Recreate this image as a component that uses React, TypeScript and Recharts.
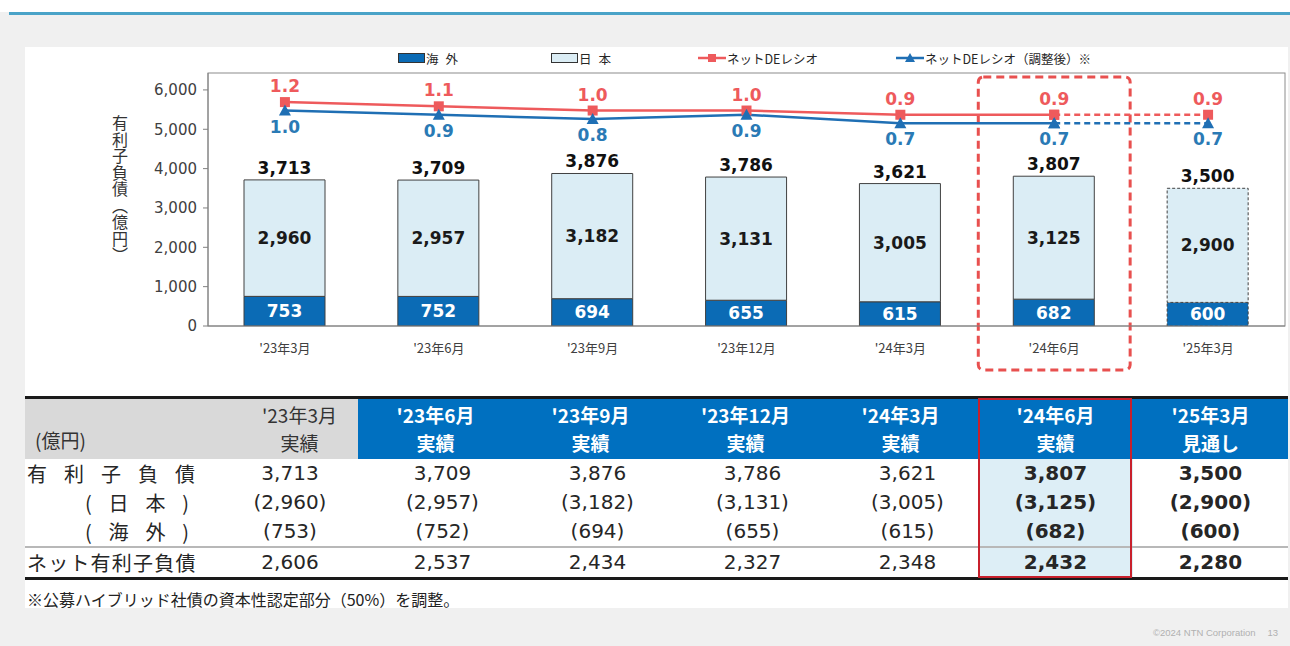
import React from 'react';
import { ComposedChart, Bar, Line, XAxis, YAxis, LabelList, Cell, ReferenceArea } from 'recharts';

const categories = ["'23年3月", "'23年6月", "'23年9月", "'23年12月", "'24年3月", "'24年6月", "'25年3月"];
const status = ['実績', '実績', '実績', '実績', '実績', '実績', '見通し'];
const overseas = [753, 752, 694, 655, 615, 682, 600];
const japan = [2960, 2957, 3182, 3131, 3005, 3125, 2900];
const total = [3713, 3709, 3876, 3786, 3621, 3807, 3500];
const netDebt = [2606, 2537, 2434, 2327, 2348, 2432, 2280];
const deRatio = [1.2, 1.1, 1.0, 1.0, 0.9, 0.9, 0.9];
const deRatioAdj = [1.0, 0.9, 0.8, 0.9, 0.7, 0.7, 0.7];
const yTicks = [0, 1000, 2000, 3000, 4000, 5000, 6000];
const Y_MAX = 6430;

const ACTUAL_LAST = 5; // '24年6月, after this the forecast (dashed)
const HIGHLIGHT = 5;

const NUM = "'DejaVu Sans', Verdana, sans-serif";
const JP = "'Noto Sans CJK JP', sans-serif";
const RED = '#ee5a5c';
const BLUE = '#1f6fb4';
const DARK = '#0b6bb5';
const LIGHT = '#dbedf5';

const chartData = categories.map((name, i) => ({
  name,
  overseas: overseas[i],
  japan: japan[i],
  total: total[i],
  deSolid: i <= ACTUAL_LAST ? deRatio[i] : null,
  deDash: i >= ACTUAL_LAST ? deRatio[i] : null,
  adjSolid: i <= ACTUAL_LAST ? deRatioAdj[i] : null,
  adjDash: i >= ACTUAL_LAST ? deRatioAdj[i] : null,
}));

const fmt = (v: any) => Number(v).toLocaleString('en-US');

const squareDot = (props: any) => {
  const { cx, cy, index } = props;
  if (cx == null || cy == null) return <g key={`s${index}`} />;
  return <rect key={`s${index}`} x={cx - 5} y={cy - 5} width={10} height={10} fill={RED} />;
};

const triangleDot = (props: any) => {
  const { cx, cy, index } = props;
  if (cx == null || cy == null) return <g key={`t${index}`} />;
  return <polygon key={`t${index}`} points={`${cx},${cy - 6} ${cx - 6},${cy + 5} ${cx + 6},${cy + 5}`} fill={BLUE} />;
};

const ratioLabel = (color: string, dy: number, from: number) => (props: any) => {
  const { x, y, value, index } = props;
  if (value == null || x == null || y == null) return null;
  if (index != null && index < from) return null;
  return (
    <text x={x} y={y + dy} fill={color} textAnchor="middle" dominantBaseline="central"
      fontSize={17} fontWeight="bold" fontFamily={NUM}>
      {Number(value).toFixed(1)}
    </text>
  );
};

const highlightBox = (props: any) => (
  <rect x={props.x + 1} y={props.y + 4} width={props.width - 2} height={props.height + 40} rx={5}
    fill="none" stroke="#e8504f" strokeWidth={3} strokeDasharray="8 5" />
);

const plotFrame = (props: any) => (
  <rect x={props.x} y={props.y} width={props.width} height={props.height} fill="none" stroke="#8c8c8c" strokeWidth={1} />
);

const LegendBar = ({ color }: { color: string }) => (
  <svg width={27} height={12} style={{ verticalAlign: 'middle' }}>
    <rect x={0.5} y={1.5} width={26} height={9} fill={color} stroke="#333" strokeWidth={1} />
  </svg>
);

const LegendLine = ({ color, tri }: { color: string; tri?: boolean }) => (
  <svg width={28} height={12} style={{ verticalAlign: 'middle' }}>
    <line x1={0} y1={6} x2={28} y2={6} stroke={color} strokeWidth={2.5} />
    {tri ? <polygon points="14,1 9,10 19,10" fill={color} /> : <rect x={10} y={2} width={8} height={8} fill={color} />}
  </svg>
);

const legendText: React.CSSProperties = { fontFamily: JP, fontSize: 12.5, color: '#262626', marginLeft: 1 };

const headerBlue: React.CSSProperties = {
  background: '#0070c0', color: '#fff', fontWeight: 'bold', fontFamily: JP, fontSize: 19,
  lineHeight: '28px', textAlign: 'center', padding: 0,
};

const App: React.FC = () => {
  const colW = [197, 136, 155, 155, 155, 155, 155, 155];
  const bodyRows: { label: React.ReactNode; values: string[] }[] = [
    {
      label: <span style={{ letterSpacing: 17 }}>有利子負債</span>,
      values: total.map(fmt),
    },
    {
      label: (
        <span style={{ display: 'flex', justifyContent: 'space-between', width: 104, marginLeft: 58 }}>
          <span>(</span><span>日</span><span>本</span><span>)</span>
        </span>
      ),
      values: japan.map((v) => `(${fmt(v)})`),
    },
    {
      label: (
        <span style={{ display: 'flex', justifyContent: 'space-between', width: 104, marginLeft: 58 }}>
          <span>(</span><span>海</span><span>外</span><span>)</span>
        </span>
      ),
      values: overseas.map((v) => `(${fmt(v)})`),
    },
  ];

  const bodyCell = (v: string, j: number, key: string) => (
    <td key={key} style={{
      textAlign: 'center', fontFamily: NUM, fontSize: 20, color: '#262626', padding: 0,
      paddingLeft: j >= 1 && j <= 4 ? 14 : 0,
      fontWeight: j >= HIGHLIGHT ? 'bold' : 'normal',
      background: j === HIGHLIGHT ? '#ddeef6' : 'transparent',
    }}>{v}</td>
  );

  return (
    <div style={{ position: 'absolute', left: 0, top: 0, width: 1290, height: 646, background: '#f0f0f0', overflow: 'hidden' }}>
      <div style={{ position: 'absolute', left: 0, top: 0, width: 1290, height: 12, background: '#fff' }} />
      <div style={{ position: 'absolute', left: 9, top: 12, width: 1281, height: 3, background: '#4aa3c8' }} />
      <div style={{ position: 'absolute', left: 25, top: 47, width: 1263, height: 561, background: '#fff' }} />

      {/* legend */}
      <div style={{ position: 'absolute', top: 50, left: 398, height: 16, display: 'flex', alignItems: 'center', whiteSpace: 'nowrap' }}>
        <LegendBar color={DARK} /><span style={{ ...legendText, width: 125, letterSpacing: 7 }}>海外</span>
        <LegendBar color={LIGHT} /><span style={{ ...legendText, width: 119, letterSpacing: 7 }}>日本</span>
        <LegendLine color={RED} /><span style={{ ...legendText, width: 169 }}>ネットDEレシオ</span>
        <LegendLine color={BLUE} tri /><span style={legendText}>ネットDEレシオ（調整後）※</span>
      </div>

      {/* y axis title */}
      <div style={{ position: 'absolute', left: 108, top: 115, writingMode: 'vertical-rl', fontFamily: JP, fontSize: 16, color: '#333', letterSpacing: 0.5 }}>
        有利子負債（億円）
      </div>

      <div style={{ position: 'absolute', left: 25, top: 47 }}>
        <ComposedChart width={1263} height={330} data={chartData} margin={{ top: 26, right: 3, left: 0, bottom: 0 }}>
          <XAxis dataKey="name" height={51} axisLine={{ stroke: '#808080' }} tickLine={false} tickMargin={12}
            tick={{ fill: '#404040', fontSize: 13, fontFamily: JP }} interval={0} />
          <YAxis yAxisId="left" width={183} domain={[0, Y_MAX]} ticks={yTicks} tickFormatter={fmt}
            axisLine={{ stroke: '#808080' }} tickLine={{ stroke: '#808080' }} tickSize={5} tickMargin={6}
            tick={{ fill: '#404040', fontSize: 15, fontFamily: NUM }} allowDataOverflow />
          <YAxis yAxisId="right" orientation="right" hide domain={[-4.11, 1.89]} allowDataOverflow />
          <ReferenceArea yAxisId="left" x1={categories[0]} x2={categories[categories.length - 1]} y1={0} y2={Y_MAX}
            shape={plotFrame} ifOverflow="visible" />
          <Bar yAxisId="left" dataKey="overseas" stackId="a" fill={DARK} stroke="#404040" strokeWidth={1} barSize={81} isAnimationActive={false}>
            {chartData.map((_, i) => (
              <Cell key={`o${i}`} strokeDasharray={i > ACTUAL_LAST ? '3 2' : undefined} />
            ))}
            <LabelList dataKey="overseas" position="center" formatter={fmt} fill="#fff" fontSize={17} fontWeight="bold" fontFamily={NUM} />
          </Bar>
          <Bar yAxisId="left" dataKey="japan" stackId="a" fill={LIGHT} stroke="#404040" strokeWidth={1} barSize={81} isAnimationActive={false}>
            {chartData.map((_, i) => (
              <Cell key={`j${i}`} strokeDasharray={i > ACTUAL_LAST ? '3 2' : undefined} />
            ))}
            <LabelList dataKey="japan" position="center" formatter={fmt} fill="#1a1a1a" fontSize={17} fontWeight="bold" fontFamily={NUM} />
            <LabelList dataKey="total" position="top" offset={6} formatter={fmt} fill="#111" fontSize={17} fontWeight="bold" fontFamily={NUM} />
          </Bar>
          <Line yAxisId="right" dataKey="deSolid" stroke={RED} strokeWidth={2.5} dot={squareDot} activeDot={false} isAnimationActive={false}>
            <LabelList dataKey="deSolid" content={ratioLabel(RED, -16, 0)} />
          </Line>
          <Line yAxisId="right" dataKey="deDash" stroke={RED} strokeWidth={2.5} strokeDasharray="6 4" dot={squareDot} activeDot={false} isAnimationActive={false}>
            <LabelList dataKey="deDash" content={ratioLabel(RED, -16, ACTUAL_LAST + 1)} />
          </Line>
          <Line yAxisId="right" dataKey="adjSolid" stroke={BLUE} strokeWidth={2.5} dot={triangleDot} activeDot={false} isAnimationActive={false}>
            <LabelList dataKey="adjSolid" content={ratioLabel('#2a7ab5', 16, 0)} />
          </Line>
          <Line yAxisId="right" dataKey="adjDash" stroke={BLUE} strokeWidth={2.5} strokeDasharray="6 4" dot={triangleDot} activeDot={false} isAnimationActive={false}>
            <LabelList dataKey="adjDash" content={ratioLabel('#2a7ab5', 16, ACTUAL_LAST + 1)} />
          </Line>
          <ReferenceArea yAxisId="left" x1={categories[HIGHLIGHT]} x2={categories[HIGHLIGHT]} shape={highlightBox} />
        </ComposedChart>
      </div>

      {/* table */}
      <table style={{
        position: 'absolute', left: 25, top: 396, width: 1263, borderCollapse: 'collapse', tableLayout: 'fixed',
        borderTop: '3px solid #1a1a1a', borderBottom: '3px solid #1a1a1a',
      }}>
        <colgroup>
          {colW.map((w, i) => <col key={i} style={{ width: w }} />)}
        </colgroup>
        <tbody>
          <tr style={{ height: 61 }}>
            <td style={{ background: '#d9d9d9', fontFamily: JP, fontSize: 19, color: '#333', verticalAlign: 'bottom', padding: '0 0 6px 10px' }}>(億円)</td>
            <td style={{ background: '#d9d9d9', fontFamily: JP, fontSize: 19, color: '#333', lineHeight: '28px', textAlign: 'center', paddingLeft: 20 }}>
              {categories[0]}<br />{status[0]}
            </td>
            {categories.slice(1).map((c, k) => (
              <td key={c} style={headerBlue}>{c}<br />{status[k + 1]}</td>
            ))}
          </tr>
          {bodyRows.map((r, ri) => (
            <tr key={ri} style={{ height: 29 }}>
              <td style={{ fontFamily: JP, fontSize: 20, color: '#262626', padding: '0 0 0 2px', whiteSpace: 'nowrap' }}>{r.label}</td>
              {r.values.map((v, j) => bodyCell(v, j, `${ri}-${j}`))}
            </tr>
          ))}
          <tr style={{ height: 30, borderTop: '2px solid #b8b8b8' }}>
            <td style={{ fontFamily: JP, fontSize: 20, color: '#262626', padding: '0 0 0 2px', letterSpacing: 1.2, whiteSpace: 'nowrap' }}>ネット有利子負債</td>
            {netDebt.map((v, j) => bodyCell(fmt(v), j, `n-${j}`))}
          </tr>
        </tbody>
      </table>
      <div style={{ position: 'absolute', left: 978, top: 398, width: 154, height: 180, boxSizing: 'border-box', border: '2px solid #c8202c' }} />

      <div style={{ position: 'absolute', left: 27, top: 587, fontFamily: JP, fontSize: 16, color: '#222', whiteSpace: 'nowrap' }}>
        ※公募ハイブリッド社債の資本性認定部分（50%）を調整。
      </div>
      <div style={{ position: 'absolute', left: 1153, top: 627, fontFamily: "'Liberation Sans', Arial, sans-serif", fontSize: 9.5, color: '#b0b0b0', whiteSpace: 'nowrap' }}>
        ©2024 NTN Corporation<span style={{ marginLeft: 12 }}>13</span>
      </div>
    </div>
  );
};

export default App;
